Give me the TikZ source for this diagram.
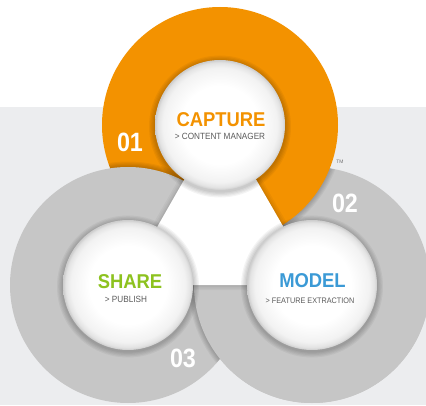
\documentclass[tikz,border=0pt]{standalone}
\usepackage{fontspec}
\setmainfont{Liberation Sans}
\definecolor{bggray}{HTML}{ECEDEF}
\definecolor{ringgray}{HTML}{C6C6C6}
\definecolor{ringorange}{HTML}{F39200}
\definecolor{sharegreen}{HTML}{8DC21F}
\definecolor{modelblue}{HTML}{3B9AD6}
\definecolor{subgray}{HTML}{5A5A5A}
\pgfdeclareradialshading{ballshade}{\pgfpoint{0bp}{0bp}}{color(0bp)=(white); color(15bp)=(white); color(22bp)=(black!5); color(24bp)=(black!11); color(25bp)=(black!20); color(50bp)=(black!20)}
\tikzset{
  ring/.style={fill=ringgray},
  halo/.style={fill=black,opacity=0.045},
  ball/.style={shading=ballshade},
  title/.style={font=\fontsize{20}{20}\selectfont\bfseries, xscale=0.92, anchor=base},
  subtitle/.style={font=\fontsize{9}{9}\selectfont, text=subgray, xscale=0.91, anchor=base},
  num/.style={font=\fontsize{26.5}{26.5}\selectfont\bfseries, text=white, xscale=0.88, anchor=base},
}
\begin{document}
\begin{tikzpicture}[x=1pt,y=1pt]
\useasboundingbox (0,0) rectangle (426,405);
\fill[white] (0,0) rectangle (426,405);
\fill[bggray] (0,0) rectangle (426,298);
\coordinate (C1) at (220,280);
\coordinate (C2) at (312,120);
\coordinate (C3) at (128,120);
\coordinate (T1) at (220,288);
\coordinate (T2) at (124,120);
\coordinate (T3) at (317,120);
% model ring (bottom layer)
\fill[ring] (C2) circle (118);
% orange over model, shadow on model
\begin{scope}
  \clip (C2) circle (118);
  \foreach \i in {1,...,5} \fill[halo] (C1) circle ({118+\i*1.1});
\end{scope}
\fill[ringorange] (C1) circle (118);
% share over orange, shadow on orange
\begin{scope}
  \clip (C1) circle (118);
  \foreach \i in {1,...,5} \fill[halo] (C3) circle ({118+\i*1.1});
\end{scope}
\fill[ring] (C3) circle (118);
% model over share in the lower part
\begin{scope}
  \clip (0,0) rectangle (426,120);
  \begin{scope}
    \clip (C3) circle (118);
    \foreach \i in {1,...,5} \fill[halo] (C2) circle ({118+\i*1.1});
  \end{scope}
  \fill[ring] (C2) circle (118);
\end{scope}
% white central triangle
\foreach \w in {10,7,4,2}
  \draw[black,opacity=0.035,line width=\w pt,line join=round] (T1) -- (T2) -- (T3) -- cycle;
\fill[white] (T1) -- (T2) -- (T3) -- cycle;
% inner circles
\foreach \c in {C1,C2,C3}{
  \foreach \i in {1,...,5} \fill[halo] (\c) ++(0,-1.5) circle ({65+\i*1.2});
}
\path[ball] (C1) circle (65);
\path[ball] (C2) circle (65);
\path[ball] (C3) circle (65);
% texts
\node[title, text=ringorange] (cap) at (221,278) {CAPTURE};
\node[subtitle] (capsub) at (220,265) {> CONTENT MANAGER};
\node[title, text=sharegreen] (sha) at (130,117) {SHARE};
\node[subtitle] (shasub) at (126,103) {> PUBLISH};
\node[title, text=modelblue] (mod) at (312.5,118) {MODEL};
\node[subtitle, font=\fontsize{8}{8}\selectfont] (modsub) at (310,102) {> FEATURE EXTRACTION};
\node[num] (n1) at (130,253) {01};
\node[num] (n2) at (345,193) {02};
\node[num] (n3) at (183,38) {03};
\node[font=\fontsize{5}{5}\selectfont, text=black!55] (tm) at (340,243) {TM};
\end{tikzpicture}
\end{document}
